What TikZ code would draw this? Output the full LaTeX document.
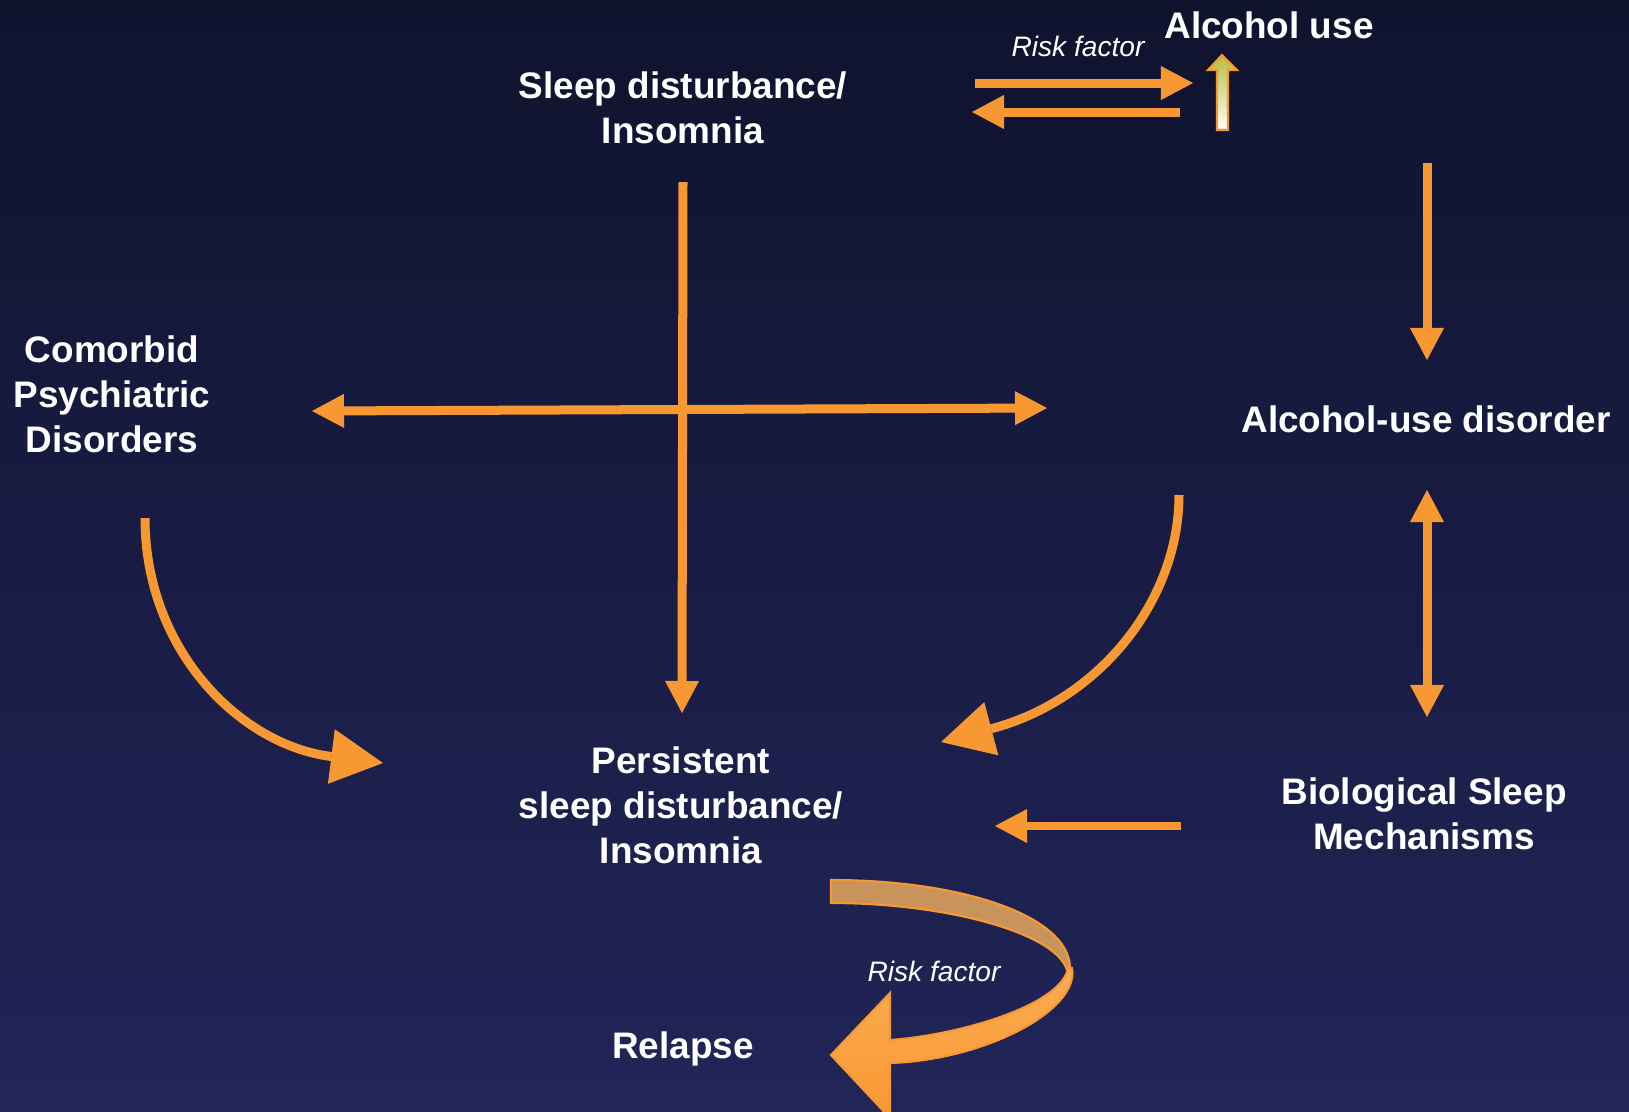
\documentclass[tikz,border=0pt]{standalone}
\usepackage{fontspec}
\setmainfont{Liberation Sans}
\usepackage{tikz}
\usetikzlibrary{arrows.meta}

\definecolor{bgtop}{RGB}{15,19,46}
\definecolor{bgbot}{RGB}{33,37,88}
\definecolor{arrorange}{RGB}{248,152,50}
\definecolor{ribbontan}{RGB}{201,147,92}
\definecolor{ribbonlight}{RGB}{252,172,82}
\definecolor{upgreen}{RGB}{180,190,60}

\begin{document}
\begin{tikzpicture}[x=0.01cm, y=-0.01cm,
    >={Triangle[length=0.32cm,width=0.34cm,line width=0pt]},
    label/.style={text=white, align=center, inner sep=0pt,
      font=\fontsize{10.5}{12.8}\selectfont\bfseries},
    risk/.style={text=white, inner sep=0pt, font=\fontsize{8}{9.6}\selectfont\itshape},
    link/.style={draw=arrorange, line width=0.09cm},
    curvelink/.style={link, -{Triangle[length=0.52cm,width=0.55cm,line width=0pt]}}]
  \useasboundingbox (0,0) rectangle (1629,1111);
  \clip (0,0) rectangle (1629,1111);
  \shade[top color=bgtop, bottom color=bgbot] (0,0) rectangle (1629,1111);

  % texts
  \node[label] (sleep) at (683,108) {Sleep disturbance/\\Insomnia};
  \node[label] (alcuse) at (1269,25) {Alcohol use};
  \node[risk] (risktop) at (1078,46) {Risk factor};
  \node[label] (aud) at (1426,419) {Alcohol-use disorder};
  \node[label] (comorbid) at (112,394) {Comorbid\\Psychiatric\\Disorders};
  \node[label] (bio) at (1424,814) {Biological Sleep\\Mechanisms};
  \node[label] (persist) at (681,805) {Persistent\\sleep disturbance/\\Insomnia};
  \node[label] (relapse) at (683,1049) {Relapse};
  \node[risk] (riskbot) at (934,971) {Risk factor};

  % arrow ends
  \coordinate (s1) at (683,182);  \coordinate (s2) at (682,713);
  \coordinate (h1) at (312,411);  \coordinate (h2) at (1047,408);
  \coordinate (r1) at (975,83);   \coordinate (r2) at (1193,83);
  \coordinate (l1) at (1180,112); \coordinate (l2) at (972,112);
  \coordinate (a1) at (1427,163); \coordinate (a2) at (1427,360);
  \coordinate (b1) at (1427,490); \coordinate (b2) at (1427,717);
  \coordinate (m1) at (1181,826); \coordinate (m2) at (995,826);
  \coordinate (c1) at (145,518);  \coordinate (c2) at (383,763);
  \coordinate (d1) at (1179,495); \coordinate (d2) at (941,742);

  \draw[link,->] (s1) -- (s2);
  \draw[link,<->] (h1) -- (h2);
  \draw[link,->] (r1) -- (r2);
  \draw[link,->] (l1) -- (l2);
  \draw[link,->] (a1) -- (a2);
  \draw[link,<->] (b1) -- (b2);
  \draw[link,->,line width=0.08cm] (m1) -- (m2);
  \draw[curvelink] (c1) .. controls (145,650) and (240,745) .. (c2);
  \draw[curvelink] (d1) .. controls (1179,600) and (1100,700) .. (d2);

  % small up arrow under Alcohol use
  \shade[top color=upgreen, bottom color=white, draw=arrorange, line width=0.6pt]
    (1217,130) -- (1217,70) -- (1208,70) -- (1222,55) -- (1237,70)
    -- (1228,70) -- (1228,130) -- cycle;

  % ribbon arrow to Relapse
  \filldraw[fill=ribbontan, draw=arrorange, line width=0.6pt]
    (831,880) .. controls (960,880) and (1068,915) .. (1070,967)
    -- (1068,975) .. controls (1065,935) and (950,903) .. (831,903) -- cycle;
  \shade[top color=ribbonlight, bottom color=arrorange, draw=arrorange, line width=0.6pt]
    (1068,968) .. controls (1062,1005) and (960,1035) .. (890,1040)
    -- (890,993) -- (831,1055) -- (890,1118) -- (890,1063)
    .. controls (985,1060) and (1080,1010) .. (1072,968) -- cycle;
\end{tikzpicture}
\end{document}
